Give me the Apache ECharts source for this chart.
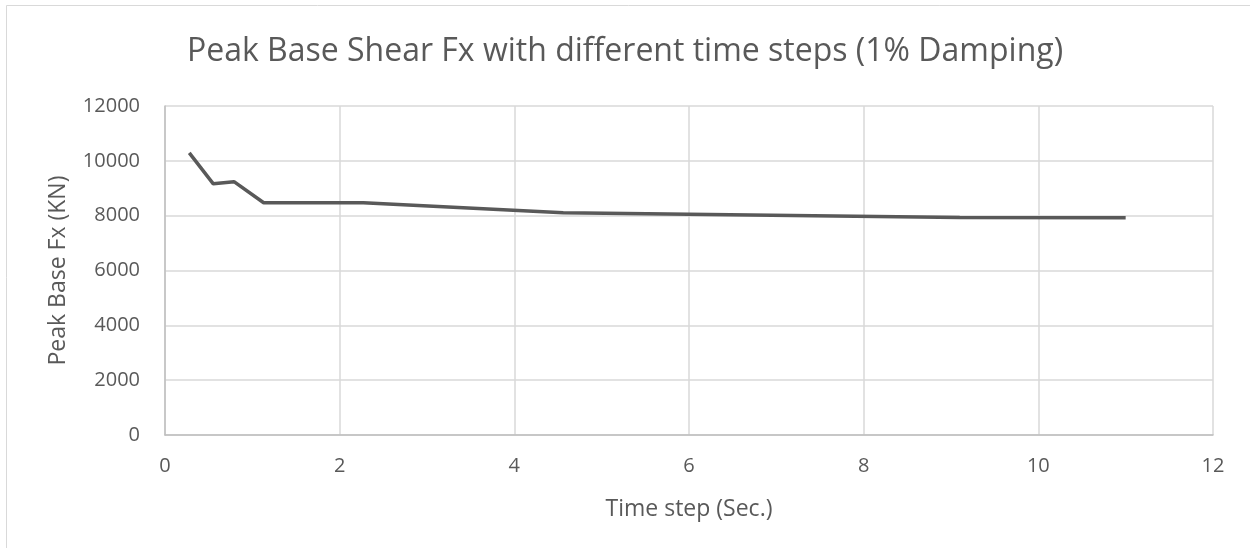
<!DOCTYPE html>
<html>
<head>
<meta charset="utf-8">
<script src="https://cdn.jsdelivr.net/npm/echarts@6/dist/echarts.min.js"></script>
<style>html,body{margin:0;padding:0;background:#fff;}#c{width:1250px;height:548px;}</style>
</head>
<body>
<div id="c"></div>
<script>
const timeSteps = [0.278, 0.553, 0.79, 1.13, 2.27, 4.56, 9.1, 11.0];
const peakFx = [10290, 9160, 9240, 8470, 8470, 8110, 7930, 7920];
const titleText = 'Peak Base Shear Fx with different time steps (1% Damping)';
const xName = 'Time step (Sec.)';
const yName = 'Peak Base Fx (KN)';

const chart = echarts.init(document.getElementById('c'));
const font = '"Open Sans", "Noto Sans", sans-serif';
chart.setOption({
  backgroundColor: '#fff',
  animation: false,
  graphic: [{
    type: 'rect', shape: {x: 6.5, y: 5.5, width: 1400, height: 700},
    style: {fill: 'none', stroke: '#d9d9d9', lineWidth: 1}, silent: true
  }],
  title: {
    text: titleText, left: 'center', top: 31,
    textStyle: {fontFamily: font, fontSize: 32, fontWeight: 'normal', color: '#595959'}
  },
  grid: {left: 165, right: 37, top: 106, bottom: 113, containLabel: false},
  xAxis: {
    type: 'value', min: 0, max: 12, interval: 2,
    name: xName, nameLocation: 'middle', nameGap: 63,
    nameTextStyle: {fontFamily: font, fontSize: 23, color: '#595959'},
    axisLine: {show: true, lineStyle: {color: '#bfbfbf', width: 1.5}},
    axisTick: {show: false},
    axisLabel: {fontFamily: font, fontSize: 20, color: '#595959', margin: 21},
    splitLine: {show: true, lineStyle: {color: '#d9d9d9', width: 1.5}}
  },
  yAxis: {
    type: 'value', min: 0, max: 12000, interval: 2000,
    name: yName, nameLocation: 'middle', nameGap: 95, nameRotate: 90,
    nameTextStyle: {fontFamily: font, fontSize: 23, color: '#595959'},
    axisLine: {show: true, lineStyle: {color: '#bfbfbf', width: 1.5}},
    axisTick: {show: false},
    axisLabel: {fontFamily: font, fontSize: 20, color: '#595959', margin: 25,
      formatter: v => String(v)},
    splitLine: {show: true, lineStyle: {color: '#d9d9d9', width: 1.5}}
  },
  series: [{
    type: 'line',
    data: timeSteps.map((t, i) => [t, peakFx[i]]),
    showSymbol: false,
    lineStyle: {color: '#595959', width: 3.5},
    itemStyle: {color: '#595959'}
  }]
});
</script>
</body>
</html>
